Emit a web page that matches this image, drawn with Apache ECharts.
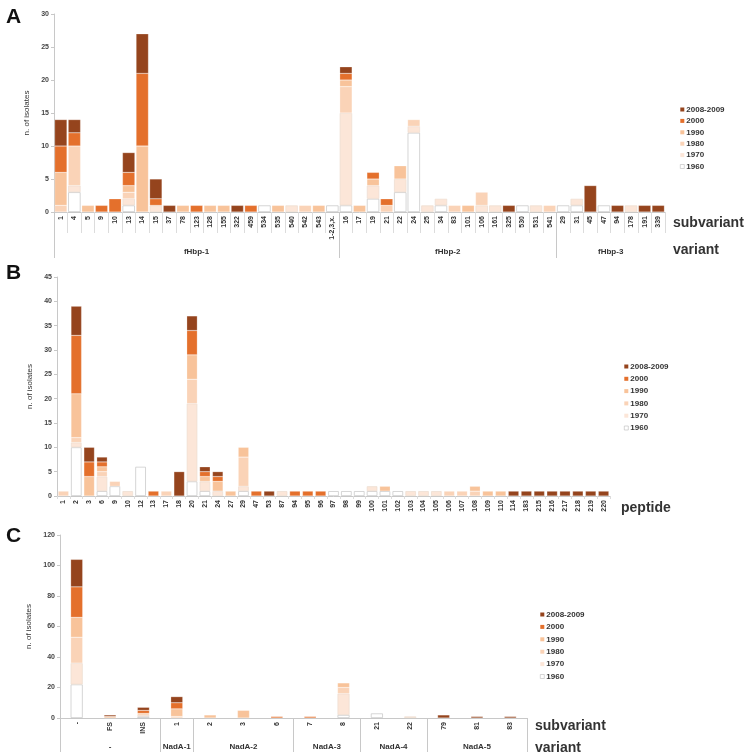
<!DOCTYPE html>
<html>
<head>
<meta charset="utf-8">
<script src="https://cdn.jsdelivr.net/npm/echarts@6/dist/echarts.min.js"></script>
<style>
  html, body { margin: 0; padding: 0; background: #fff; }
  #chart { width: 745px; height: 752px; }
</style>
</head>
<body>
<div id="chart"></div>
<script>
// decades, bottom of the stack first
const decades = ['1960', '1970', '1980', '1990', '2000', '2008-2009'];
const colors = ['#ffffff', '#fce6d8', '#fad3b7', '#f8c39a', '#e4702c', '#95441d'];

// ---- panel A : fHbp subvariants ----
const subA = ['1','4','5','9','10','13','14','15','37','78','123','128','155','322','459','534','535','540','542','543','1-2,3,x.',
  '16','17','19','21','22','24','25','34','83','101','106','161','325','530','531','541',
  '29','31','45','47','94','178','191','339'];
const a1960 = [0,3,0,0,0,1,0,0,0,0, 0,0,0,0,0,1,0,0,0,0, 1,1,0,2,0,3,12,0,1,0, 0,0,0,0,1,0,0,1,1,0, 1,0,0,0,0];
const a1970 = [0,1,0,0,0,1,0,1,0,0, 0,0,0,0,0,0,0,1,0,0, 0,14,0,2,0,2,1,1,1,0, 0,1,1,0,0,1,0,0,1,0, 0,0,1,0,0];
const a1980 = [1,6,0,0,0,1,0,0,0,0, 0,0,0,0,0,0,0,0,1,0, 0,4,0,0,1,0,1,0,0,1, 0,2,0,0,0,0,1,0,0,0, 0,0,0,0,0];
const a1990 = [5,0,1,0,0,1,10,0,0,1, 0,1,1,0,0,0,1,0,0,1, 0,1,1,1,0,2,0,0,0,0, 1,0,0,0,0,0,0,0,0,0, 0,0,0,0,0];
const a2000 = [4,2,0,1,2,2,11,1,0,0, 1,0,0,0,1,0,0,0,0,0, 0,1,0,1,1,0,0,0,0,0, 0,0,0,0,0,0,0,0,0,0, 0,0,0,0,0];
const a2008 = [4,2,0,0,0,3,6,3,1,0, 0,0,0,1,0,0,0,0,0,0, 0,1,0,0,0,0,0,0,0,0, 0,0,0,1,0,0,0,0,0,4, 0,1,0,1,1];
const variantA = ['fHbp-1', 'fHbp-2', 'fHbp-3'];
const variantSizeA = [21, 16, 8];

// ---- panel B : peptides ----
const pepB = ['1','2','3','6','9','10','12','13','17','18','20','21','24','27','29','47','53','87','94','95','96','97','98','99',
  '100','101','102','103','104','105','106','107','108','109','110','114','183','215','216','217','218','219','220'];
const b1960 = [0,10,0,1,2,0,6,0,0,0, 3,1,0,0,1,0,0,0,0,0, 0,1,1,1,1,1,1,0,0,0, 0,0,0,0,0,0,0,0,0,0, 0,0,0];
const b1970 = [0,1,0,3,0,1,0,0,0,0, 16,2,1,0,1,0,0,1,0,0, 0,0,0,0,1,0,0,1,1,1, 0,0,0,0,0,0,0,0,0,0, 0,0,0];
const b1980 = [1,1,0,1,1,0,0,0,1,0, 5,0,0,0,6,0,0,0,0,0, 0,0,0,0,0,0,0,0,0,0, 1,1,1,0,0,0,0,0,0,0, 0,0,0];
const b1990 = [0,9,4,1,0,0,0,0,0,0, 5,1,2,1,2,0,0,0,0,0, 0,0,0,0,0,1,0,0,0,0, 0,0,1,1,1,0,0,0,0,0, 0,0,0];
const b2000 = [0,12,3,1,0,0,0,1,0,0, 5,1,1,0,0,1,0,0,1,1, 1,0,0,0,0,0,0,0,0,0, 0,0,0,0,0,0,0,0,0,0, 0,0,0];
const b2008 = [0,6,3,1,0,0,0,0,0,5, 3,1,1,0,0,0,1,0,0,0, 0,0,0,0,0,0,0,0,0,0, 0,0,0,0,0,1,1,1,1,1, 1,1,1];

// ---- panel C : NadA ----
const subC = ['-','FS','INS','1','2','3','6','7','8','21','22','79','81','83'];
const c1960 = [22,0,1,0,0,0,0,0,2,3,0,0,0,0];
const c1970 = [14,0,1,0,0,0,0,0,14,0,1,0,0,0];
const c1980 = [17,0,0,1,0,0,0,0,4,0,0,0,0,0];
const c1990 = [13,1,1,5,2,5,0,0,3,0,0,0,0,0];
const c2000 = [20,0,2,4,0,0,1,1,0,0,0,0,0,0];
const c2008 = [18,1,2,4,0,0,0,0,0,0,0,2,1,1];
const variantC = ['-', 'NadA-1', 'NadA-2', 'NadA-3', 'NadA-4', 'NadA-5'];
const variantSizeC = [3, 1, 3, 2, 2, 3];

const FONT = "'Liberation Sans', Arial, sans-serif";

function bounds(sizes) {
  const b = [0];
  sizes.forEach(s => b.push(b[b.length - 1] + s));
  return b;
}
function mids(sizes) {
  const b = bounds(sizes);
  return sizes.map((s, i) => b[i] + s / 2);
}

function stackSeries(stack, xi, yi, rows, gap, width) {
  return rows.map((vals, i) => ({
    name: decades[i],
    type: 'bar',
    stack: stack,
    xAxisIndex: xi,
    yAxisIndex: yi,
    barCategoryGap: gap,
    barWidth: width,
    data: vals.map(v => v || '-'),
    itemStyle: {
      color: colors[i],
      borderColor: i === 0 ? '#c4c4c4' : (i === 1 ? '#eddcd0' : 'rgba(255,255,255,0.6)'),
      borderWidth: i < 2 ? 0.7 : 0.4
    }
  }));
}

function yAx(grid, max, step) {
  return {
    type: 'value', gridIndex: grid, min: 0, max: max, interval: step,
    name: 'n. of isolates', nameLocation: 'middle', nameGap: 21,
    nameTextStyle: { fontFamily: FONT, fontSize: 8, color: '#333' },
    axisLine: { show: true, lineStyle: { color: '#c8c8c8', width: 1 } },
    axisTick: { show: true, length: 3, lineStyle: { color: '#c8c8c8' } },
    splitLine: { show: false },
    axisLabel: { fontFamily: FONT, fontSize: 7, fontWeight: 'bold', color: '#444', margin: 5 }
  };
}

function subAx(grid, cats, tickLen, showTick) {
  return {
    type: 'category', gridIndex: grid, data: cats, position: 'bottom',
    axisLine: { show: true, lineStyle: { color: '#c8c8c8' } },
    axisTick: { show: showTick, interval: 0, length: tickLen, lineStyle: { color: '#dcdcdc' } },
    axisLabel: { interval: 0, rotate: 90, fontFamily: FONT, fontSize: 7, fontWeight: 'bold', color: '#333', margin: 4 }
  };
}

function variantAx(grid, names, sizes, tickLen, labelMargin, withEnd) {
  const b = bounds(sizes);
  const m = mids(sizes);
  return {
    type: 'value', gridIndex: grid, position: 'bottom', min: 0, max: b[b.length - 1],
    axisLine: { show: false },
    splitLine: { show: false },
    axisTick: { show: true, length: tickLen, customValues: withEnd ? b : b.slice(0, -1), lineStyle: { color: '#c8c8c8' } },
    axisLabel: {
      customValues: m, margin: labelMargin,
      fontFamily: FONT, fontSize: 8, fontWeight: 'bold', color: '#333',
      formatter: v => names[m.indexOf(v)] || ''
    }
  };
}

function legendAt(left, top, gap) {
  return {
    orient: 'vertical', left: left, top: top, itemGap: gap,
    itemWidth: 4, itemHeight: 4, icon: 'rect',
    data: decades.slice().reverse().map(d => ({
      name: d,
      itemStyle: d === '1960' ? { borderColor: '#bbb', borderWidth: 0.6 } : { borderWidth: 0 }
    })),
    textStyle: { fontFamily: FONT, fontSize: 8, fontWeight: 'bold', color: '#333', lineHeight: 9, padding: [0, 0, 0, -3] }
  };
}

function label(text, x, y, size) {
  return {
    type: 'text', left: x, top: y,
    style: { text: text, fontFamily: FONT, fontSize: size, fontWeight: 'bold', fill: '#333', verticalAlign: 'middle' }
  };
}

const chart = echarts.init(document.getElementById('chart'));

const option = {
  animation: false,
  grid: [
    { left: 54, top: 14, width: 611, height: 198 },
    { left: 57, top: 277, width: 553, height: 219 },
    { left: 60, top: 535, width: 467, height: 183 }
  ],
  legend: [legendAt(675, 100, 2.4), legendAt(619, 357, 3.3), legendAt(535, 605, 3.4)],
  xAxis: [
    subAx(0, subA, 21, true),
    variantAx(0, variantA, variantSizeA, 46, 36, false),
    subAx(1, pepB, 3, true),
    subAx(2, subC, 0, false),
    variantAx(2, variantC, variantSizeC, 40, 25, true)
  ],
  yAxis: [yAx(0, 30, 5), yAx(1, 45, 5), yAx(2, 120, 20)],
  series: [
    ...stackSeries('A', 0, 0, [a1960, a1970, a1980, a1990, a2000, a2008], '9%'),
    ...stackSeries('B', 2, 1, [b1960, b1970, b1980, b1990, b2000, b2008], '18%'),
    ...stackSeries('C', 3, 2, [c1960, c1970, c1980, c1990, c2000, c2008], null, 12)
  ],
  graphic: [
    { type: 'text', left: 6, top: 7, style: { text: 'A', fontFamily: FONT, fontSize: 21, fontWeight: 'bold', fill: '#111' } },
    { type: 'text', left: 6, top: 263, style: { text: 'B', fontFamily: FONT, fontSize: 21, fontWeight: 'bold', fill: '#111' } },
    { type: 'text', left: 6, top: 526, style: { text: 'C', fontFamily: FONT, fontSize: 21, fontWeight: 'bold', fill: '#111' } },
    label('subvariant', 673, 216, 14),
    label('variant', 673, 243, 14),
    label('peptide', 621, 501, 14),
    label('subvariant', 535, 719, 14),
    label('variant', 535, 741, 14)
  ]
};

chart.setOption(option);
</script>
</body>
</html>
